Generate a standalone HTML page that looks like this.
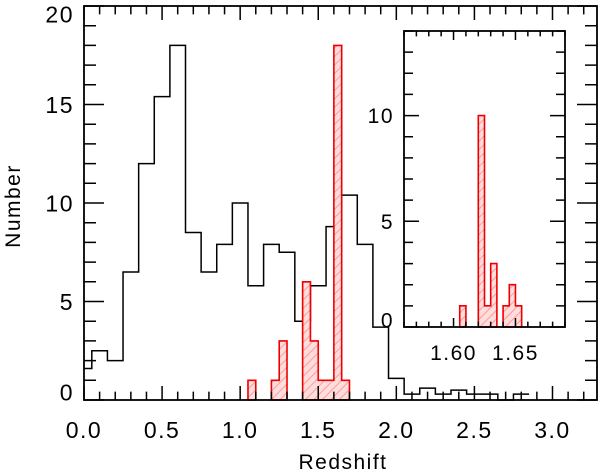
<!DOCTYPE html>
<html><head><meta charset="utf-8"><style>
html,body{margin:0;padding:0;background:#fff;}
svg{display:block;font-family:"Liberation Sans",sans-serif;}
</style></head><body>
<svg id="c" width="600" height="473" viewBox="0 0 600 473">
<defs>
<pattern id="hatch" patternUnits="userSpaceOnUse" width="6" height="6" patternTransform="rotate(45)">
<rect width="6" height="6" fill="#fdd"/>
<line x1="0" y1="0" x2="0" y2="6" stroke="#f99" stroke-width="2"/>
</pattern>
</defs>
<g id="main"></g>
<g id="inset"></g>
<text x="343" y="469" text-anchor="middle" font-size="21" letter-spacing="1.5">Redshift</text>
<text transform="translate(20,206) rotate(-90)" text-anchor="middle" font-size="21" letter-spacing="1.5">Number</text>
</svg>
<script>
// Main black histogram: bin edges (redshift) and counts
const blackEdges = [0.0,0.05,0.15,0.25,0.35,0.45,0.55,0.65,0.75,0.85,0.95,1.05,1.15,1.25,1.35,1.45,1.55,1.65,1.75,1.85,1.95,2.05,2.15,2.25,2.35,2.45,2.55,2.65,2.75,2.85];
const blackCounts = [1.6,2.5,2.0,6.5,12.0,15.4,18.0,8.5,6.5,7.9,10.0,5.8,7.9,7.5,4.0,5.8,8.8,10.4,7.9,3.7,1.1,0.3,0.6,0.3,0.5,0.3,0.3,0,0.3];
// Red hatched histogram (bin width 0.05)
const redStarts = [1.05,1.20,1.25,1.40,1.45,1.50,1.55,1.60,1.65];
const redCounts = [1,1,3,6,3,1,1,18,1];
const redWidth = 0.05;
// Inset red histogram (bin width 0.005)
const insetStarts = [1.605,1.620,1.625,1.630,1.640,1.645,1.650];
const insetCounts = [1,10,1,3,1,2,1];
const insetWidth = 0.005;
// Tick labels
const mainXTicks = ["0.0","0.5","1.0","1.5","2.0","2.5","3.0"];
const mainYTicks = ["0","5","10","15","20"];
const insetXTicks = ["1.60","1.65"];
const insetYTicks = ["0","5","10"];

const NS="http://www.w3.org/2000/svg";
function mk(parent,tag,attrs){const e=document.createElementNS(NS,tag);for(const k in attrs)e.setAttribute(k,attrs[k]);parent.appendChild(e);return e;}

function drawPanel(g,o){
  const X=v=>o.x0+(v-o.xmin)/(o.xmax-o.xmin)*(o.x1-o.x0);
  const Y=v=>o.y0-(v-o.ymin)/(o.ymax-o.ymin)*(o.y0-o.y1);
  if(o.step){
    let d='';
    o.step.edges.forEach((e,i)=>{
      const e2=i+1<o.step.edges.length?o.step.edges[i+1]:e+0.1;
      const y=Y(o.step.counts[i]);
      d+=(i===0?'M'+X(e)+','+Y(o.step.counts[0]):'L'+X(e)+','+y)+'L'+X(e2)+','+y;
    });
    const last=o.step.edges[o.step.edges.length-1]+0.1;
    d+='L'+X(last)+','+Y(0);
    const p=mk(g,'path',{d:d,fill:'none',stroke:'#000','stroke-width':1.5});
    
    
  }
  // group contiguous red bins into step outlines
  const groups=[];
  o.bars.forEach(b=>{
    const last=groups[groups.length-1];
    if(last&&Math.abs(last[last.length-1][0]+o.bw-b[0])<1e-6)last.push(b);else groups.push([b]);
  });
  groups.forEach(gr=>{
    let d='M'+X(gr[0][0])+','+Y(0);
    gr.forEach(b=>{d+='L'+X(b[0])+','+Y(b[1])+'L'+X(b[0]+o.bw)+','+Y(b[1]);});
    d+='L'+X(gr[gr.length-1][0]+o.bw)+','+Y(0)+'Z';
    const p=mk(g,'path',{d:d,fill:'url(#hatch)',stroke:'#e00','stroke-width':1.6});
    
    
  });
  let td='';
  for(let v=o.xmin;v<=o.xmax+1e-9;v+=o.xminor){
    const vv=Math.round(v/o.xminor)*o.xminor;
    const maj=Math.abs(vv/o.xmajor-Math.round(vv/o.xmajor))<1e-6;
    const L=maj?o.xtl:o.xtl*0.6;const x=X(vv);
    td+=`M${x},${o.y0}V${o.y0-L}M${x},${o.y1}V${o.y1+L}`;
  }
  for(let v=o.ymin;v<=o.ymax+1e-9;v+=o.yminor){
    const maj=Math.abs(v/o.ymajor-Math.round(v/o.ymajor))<1e-6;
    const L=maj?o.ytl:o.ytl*0.6;const y=Y(v);
    td+=`M${o.x0},${y}H${o.x0+L}M${o.x1},${y}H${o.x1-L}`;
  }
  const t=mk(g,'path',{d:td,stroke:'#000','stroke-width':1.5,fill:'none'});
  
  
  const f=mk(g,'rect',{x:o.x0,y:o.y1,width:o.x1-o.x0,height:o.y0-o.y1,fill:'none',stroke:'#000','stroke-width':1.8});
  
  
  o.xt.forEach(s=>{
    const tx=mk(g,'text',{x:X(parseFloat(s)),y:o.y0+o.xlab,'text-anchor':'middle','font-size':o.fs,'letter-spacing':1.5});
    tx.textContent=s;
    
    
  });
  o.yt.forEach((s,i)=>{
    let yy=Y(parseFloat(s));
    yy=Math.min(Math.max(yy,o.y1+o.clamp),o.y0-o.clamp);
    const tx=mk(g,'text',{x:o.x0-o.ylab,y:yy+o.fs*0.36,'text-anchor':'end','font-size':o.fs,'letter-spacing':1.5});
    tx.textContent=s;
    
    
  });
}
drawPanel(document.getElementById('main'),{x0:84,x1:597,y0:400,y1:6,xmin:0,xmax:3.285,ymin:0,ymax:20,
  xminor:0.1,xmajor:0.5,yminor:1,ymajor:5,xtl:14,ytl:20,
  bars:redStarts.map((s,i)=>[s,redCounts[i]]),bw:redWidth,
  step:{edges:blackEdges,counts:blackCounts},
  xt:mainXTicks,yt:mainYTicks,fs:23,xlab:38,ylab:10,clamp:8});
drawPanel(document.getElementById('inset'),{x0:404,x1:565,y0:327,y1:31,xmin:1.56,xmax:1.69,ymin:0,ymax:14,
  xminor:0.01,xmajor:0.05,yminor:1,ymajor:5,xtl:9,ytl:15,
  bars:insetStarts.map((s,i)=>[s,insetCounts[i]]),bw:insetWidth,
  xt:insetXTicks,yt:insetYTicks,fs:21,xlab:33,ylab:10,clamp:7});
</script>
</body></html>
